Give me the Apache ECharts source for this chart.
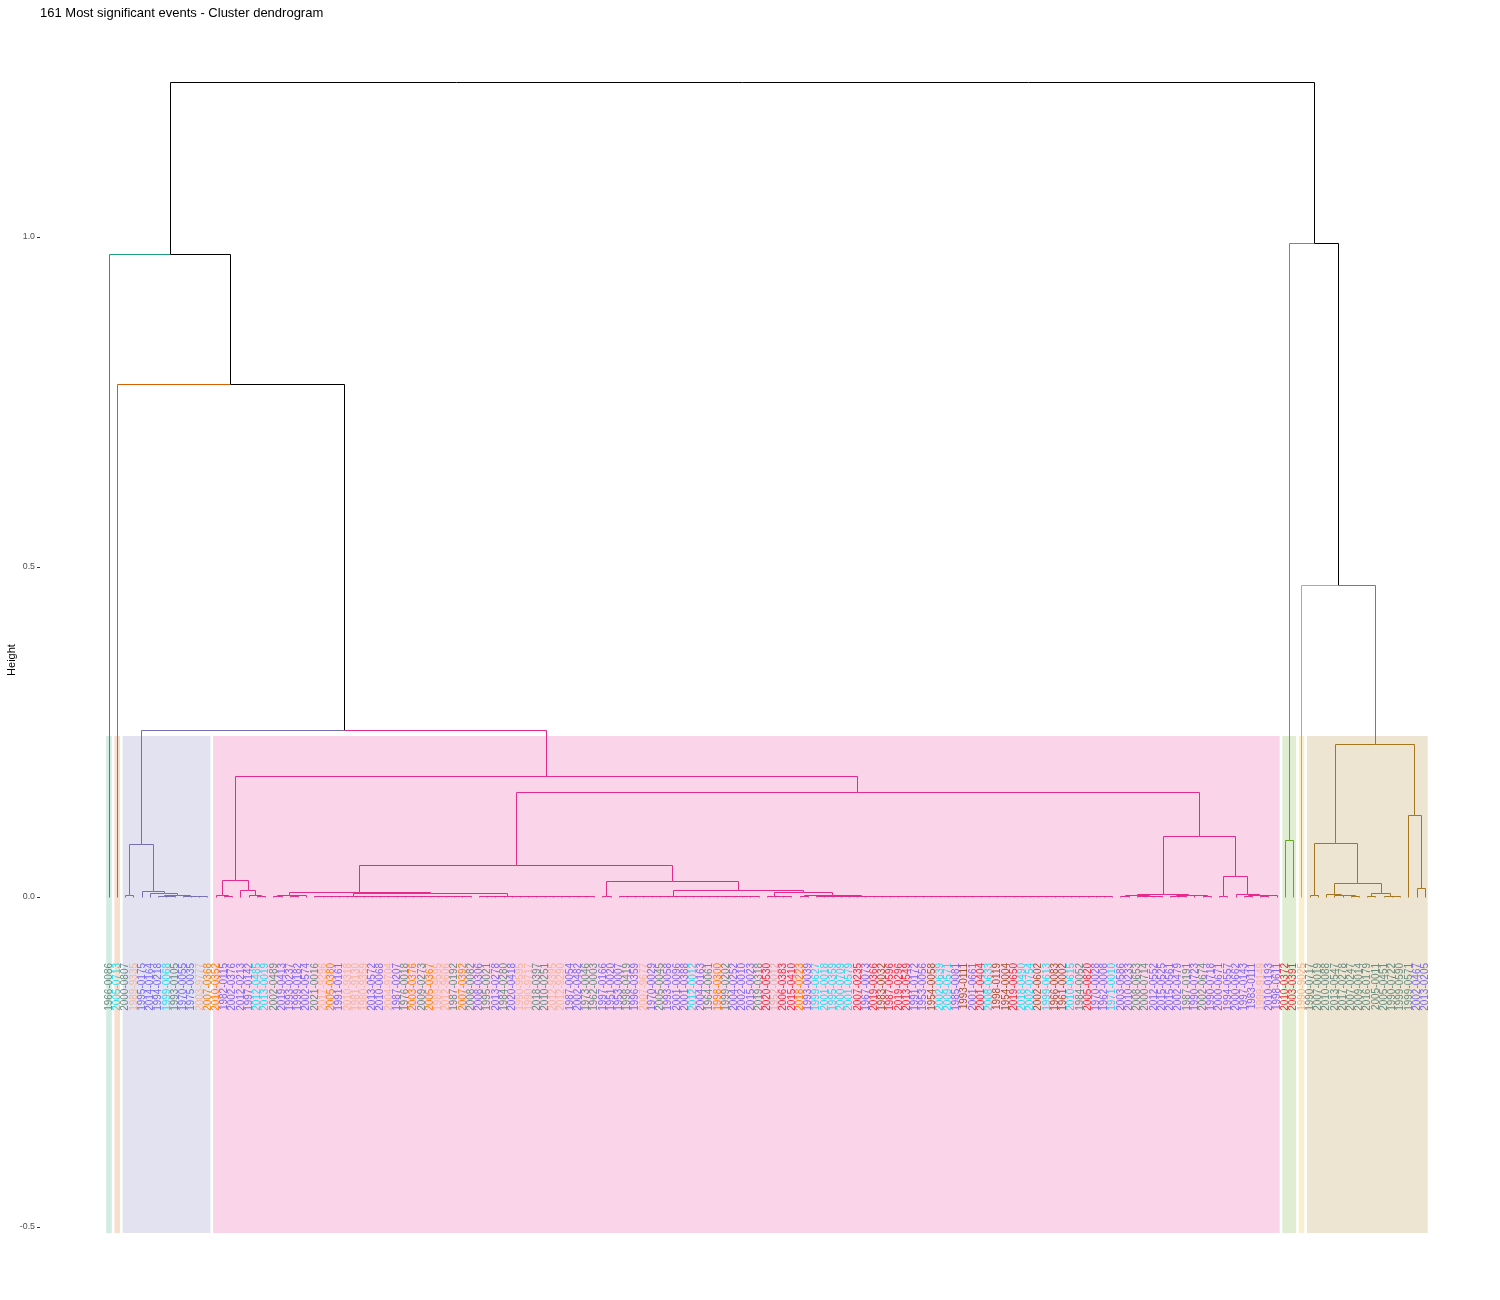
<!DOCTYPE html>
<html><head><meta charset="utf-8">
<script src="https://cdn.jsdelivr.net/npm/echarts@6/dist/echarts.min.js"></script>
<style>html,body{margin:0;padding:0;background:#fff}#c{width:1500px;height:1300px}</style>
</head><body><div id="c"></div>
<script>
// ---------- DATA ----------
const titleText = '161 Most significant events - Cluster dendrogram';
const yTickValues = [-0.5, 0, 0.5, 1.0];

const leafLabels = [
'1966-0086','2005-0713','2000-0807','1989-9335','1995-0175','2014-0164','1994-0218','1999-0068','1993-0105','1970-0055',
'1975-0035','2003-9777','2007-0368','2010-0352','1982-0115','2002-0376','2012-0213','1997-0142','2012-0485','2013-0019',
'2002-0489','2019-0413','1993-0237','1999-0182','2002-0574','2021-0016','2017-9296','2005-0380','1991-0161','2010-9318',
'1981-9130','1980-9359','2013-0572','2010-0068','2004-9704','1987-0207','1976-0018','2003-0376','2009-0273','2005-0367',
'1989-9595','2012-9606','1987-0192','2007-0392','2008-0082','2008-0306','1995-0021','2013-0278','1984-0280','2020-0418',
'1990-9595','1990-9717','2018-0397','2010-0251','2012-9395','2012-9290','1987-0054','2002-0482','1973-0046','1962-0003',
'1997-0166','1951-0020','1953-0007','1998-0419','1996-0359','2007-9677','1970-0029','2005-0045','1993-0058','2001-0096',
'2001-0388','2012-0012','2004-0163','1964-0061','1998-0300','1999-0202','2004-0252','2002-0010','2015-0023','2019-0318',
'2020-0530','1952-0012','2006-0383','2015-0410','2018-0223','1993-0039','1999-0627','2001-0018','1995-0359','2000-0709',
'2001-0579','2007-0235','1967-0073','2019-0366','1983-0032','1987-0596','2019-0296','2013-0549','1991-0172','1953-0056',
'1954-0058','2002-0639','2009-0571','1985-0081','1993-0111','2001-0661','2001-0404','2008-0633','1998-0119','1954-0004',
'2019-0650','2018-0490','2002-0754','2002-0602','1999-0613','1966-0083','1961-0002','2010-0615','1984-0052','2005-0820',
'1970-0028','1962-0008','1971-0010','2003-0586','2010-0233','2008-0653','2000-0714','2012-0552','2015-0525','2015-0561',
'2002-0479','1987-0191','1990-0723','2002-0674','1990-0718','2000-0671','1994-0557','2000-0662','1997-0143','1983-0111',
'1999-9149','2010-0193','1998-0611','2010-0372','2003-0391','1990-9025','1990-0717','2007-0019','2010-0088','2013-0547',
'2017-0278','2007-0247','2009-0014','2016-0179','2005-0011','2005-0451','1990-0722','1999-0590','1999-0571','2002-0467',
'2013-0205'
];
const leafGroups = [
'G','C','G','K','P','P','P','C','G','P',
'P','K','O','O','P','P','P','P','C','C',
'G','P','P','P','P','G','K','O','P','K',
'K','K','P','P','K','P','G','O','G','O',
'K','K','G','O','G','P','G','P','G','P',
'K','K','G','G','K','K','P','P','G','G',
'P','P','P','G','P','K','P','G','P','P',
'P','C','P','G','O','G','P','P','P','G',
'R','L','R','R','O','P','C','C','C','C',
'C','R','P','R','B','R','R','R','P','P',
'B','C','C','P','B','P','R','C','B','B',
'R','C','C','B','C','B','B','C','G','R',
'P','P','C','P','P','G','G','P','P','P',
'P','G','P','G','P','P','P','P','P','P',
'K','P','P','R','R','K','G','G','G','G',
'G','G','G','G','G','G','G','G','G','P',
'P'
];
const groupColors = {P:'#7B68EE', C:'#1EDDF0', G:'#668B80', K:'#F4B49A', O:'#FF8000', R:'#EE2C3C', B:'#A0522D', L:'#D6B4B0'};

const clusterRanges = [[0,0],[1,1],[2,12],[13,142],[143,144],[145,145],[146,160]];
const clusterColors = ['#1B9E77','#D95F02','#7570B3','#E7298A','#66A61E','#E6AB02','#A6761D'];
const clusterRectTop = 0.244;
const clusterRectBottom = -0.509;

// tree nodes: [height, child, child, ...]; numbers are leaf indices
const treePurple = [0.0788, [0.002, 2, 3], [0.0076, 4, [0.0056, 5, [0.0026, [0.0004, 6, [0.0002, 7, 8]], [0.001, 9, [0.0004, 10, [0.0002, 11, 12]]]]]]];
const treePinkA = [0.0253, [0.0026, 13, [0.0005, 14, 15]], [0.0101, 16, [0.0026, 17, [0.0005, 18, 19]]]];
const treePinkQ1 = [0.007,
  [0.0025, [0.001, 20, 21], [0.0018, [0.0008, 22, 23], 24]],
  [0.0055,
    [0.0012, [0.0003, 25, 26, 27, 28], [0.0009, [0.0004, 29, 30, 31, 32, 33, 34, 35], [0.0006, 36, 37, 38, 39, 40, 41, 42, 43, 44]]],
    [0.0015, [0.0004, 45, 46], [0.001, [0.0005, 47, 48, 49, 50, 51, 52], [0.0007, [0.0003, 53, 54], [0.0005, 55, [0.0003, 56, 57], [0.0002, 58, 59]]]]]
  ]
];
const treePinkQ2 = [0.0236, [0.0015, 60, 61],
  [0.0106,
    [0.0015, [0.0008, [0.0004, 62, 63, 64], [0.0005, [0.0003, 65, 66], [0.0003, 67, 68, 69]]], [0.0011, [0.0006, 70, 71], [0.0008, [0.0004, 72, 73, 74], [0.0005, 75, 76, 77, 78, 79]]]],
    [0.007, [0.0005, 80, [0.0003, 81, [0.0002, 82, 83]]],
      [0.0027, [0.0003, 84, 85], [0.0012, [0.0006, 86, 87, 88, 89, 90],
        [0.0009, [0.0006, 91, 92, 93, 94, 95, 96, 97, 98],
          [0.0003, 99, 100, 101, 102, 103, 104, 105, 106, 107, 108, 109, 110, 111, 112, 113, 114, 115, 116, 117, 118, 119, 120, 121, 122]]]]]
  ]
];
const treePinkR = [0.0924,
  [0.0035, [0.002, [0.001, 123, 124], [0.0015, [0.0005, 125, 126], [0.001, 127, 128]]], [0.0025, [0.0015, 129, [0.001, 130, 131]], [0.002, 132, [0.001, 133, 134]]]],
  [0.0318, [0.001, 135, 136], [0.004, 137, [0.003, [0.0015, 138, 139], [0.002, [0.001, 140, 141], 142]]]]
];
const treePink = [0.1833, treePinkA, [0.1576, [0.047, treePinkQ1, treePinkQ2], treePinkR]];
const treeBrown = [0.2313,
  [0.0811, [0.0026, 146, 147], [0.0207, [0.004, 148, [0.003, 149, [0.0018, 150, [0.001, 151, 152]]]], [0.0056, [0.001, 153, 154], [0.0012, 155, [0.0006, 156, 157]]]]],
  [0.1237, 158, [0.0132, 159, 160]]
];
const treeRoot = [1.2348,
  [0.9742, 0, [0.7758, 1, [0.253, treePurple, treePink]]],
  [0.9909, [0.0859, 143, 144], [0.4727, 145, treeBrown]]
];

// ---------- LAYOUT (dendrogram geometry, R-style midpoints) ----------
function layout(node) {
  if (typeof node === 'number') return { x: node, h: 0, lo: node, hi: node, kids: [] };
  const h = node[0];
  let kids = node.slice(1);
  if (kids.length > 2) kids = [kids[0], [h].concat(kids.slice(1))];
  const a = layout(kids[0]), b = layout(kids[1]);
  return { x: (a.x + b.x) / 2, h: h, lo: a.lo, hi: b.hi, kids: [a, b] };
}
function clusterOf(n) {
  for (let c = 0; c < clusterRanges.length; c++) {
    if (n.lo >= clusterRanges[c][0] && n.hi <= clusterRanges[c][1]) return c;
  }
  return -1;
}
const root = layout(treeRoot);
const segments = [];
(function walk(n) {
  n.kids.forEach(k => {
    segments.push([n.x, n.h, k.x, n.h, k.x, k.h, clusterOf(k)]);
    walk(k);
  });
})(root);

const rectData = clusterRanges.map((r, i) => [r[0], r[1], i]);
const labelData = leafLabels.map((t, i) => [i, -0.1]);

const FONT = '"Liberation Sans", Arial, Helvetica, sans-serif';
function snap(p) { return [Math.round(p[0] - 0.5) + 0.5, Math.round(p[1] - 0.5) + 0.5]; }
function hexA(hex, a) {
  const v = parseInt(hex.slice(1), 16);
  return 'rgba(' + ((v >> 16) & 255) + ',' + ((v >> 8) & 255) + ',' + (v & 255) + ',' + a + ')';
}

const chart = echarts.init(document.getElementById('c'));
chart.setOption({
  animation: false,
  backgroundColor: '#ffffff',
  grid: { left: 40, right: 10, top: 39, bottom: 73 },
  xAxis: { type: 'value', min: -8.4255, max: 167.87, show: false },
  yAxis: {
    type: 'value', min: -0.5, max: 1.3,
    axisLine: { show: false, onZero: false },
    splitLine: { show: false },
    axisTick: { show: true, length: 3, customValues: yTickValues, lineStyle: { color: '#333333', width: 1 } },
    axisLabel: { customValues: yTickValues, fontSize: 8.8, color: '#4D4D4D', margin: 5, fontFamily: FONT,
      formatter: v => Number(v).toFixed(1) }
  },
  graphic: [
    { type: 'text', x: 40, y: 13, style: { text: titleText, fill: '#000', font: '13px ' + FONT, align: 'left', verticalAlign: 'middle' } },
    { type: 'text', x: 12, y: 660, rotation: Math.PI / 2, style: { text: 'Height', fill: '#000', font: '11px ' + FONT, align: 'center', verticalAlign: 'middle' } }
  ],
  series: [
    {
      type: 'custom', name: 'clusters', z: 1, silent: true, clip: false,
      data: rectData,
      renderItem: function (params, api) {
        const p1 = api.coord([api.value(0) - 0.38, clusterRectTop]);
        const p2 = api.coord([api.value(1) + 0.3, clusterRectBottom]);
        return { type: 'rect', shape: { x: p1[0], y: p1[1], width: p2[0] - p1[0], height: p2[1] - p1[1] },
          style: { fill: hexA(clusterColors[api.value(2)], 0.2) } };
      }
    },
    {
      type: 'custom', name: 'branches', z: 3, silent: true, clip: false,
      data: segments,
      renderItem: function (params, api) {
        const a = snap(api.coord([api.value(0), api.value(1)]));
        const b = snap(api.coord([api.value(2), api.value(3)]));
        const c = snap(api.coord([api.value(4), api.value(5)]));
        const ci = api.value(6);
        return { type: 'polyline', shape: { points: [a, b, c] },
          style: { stroke: ci >= 0 ? clusterColors[ci] : '#000000', lineWidth: 1, fill: null } };
      }
    },
    {
      type: 'custom', name: 'labels', z: 4, silent: true, clip: false,
      data: labelData,
      renderItem: function (params, api) {
        const i = params.dataIndex;
        const p = api.coord([api.value(0), api.value(1)]);
        return { type: 'text', x: p[0], y: p[1], rotation: Math.PI / 2,
          style: { text: leafLabels[i], fill: groupColors[leafGroups[i]], font: '10px ' + FONT, align: 'right', verticalAlign: 'middle' } };
      }
    }
  ]
});
</script>
</body></html>
